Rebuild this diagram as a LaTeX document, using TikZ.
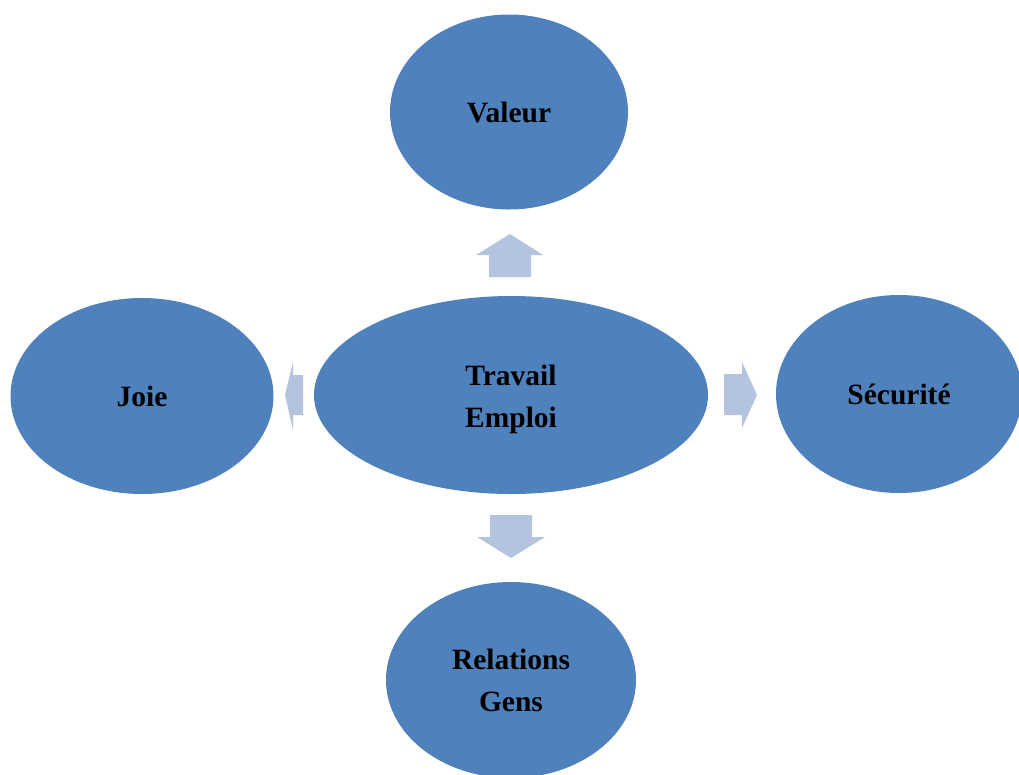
\documentclass[tikz,border=0pt]{standalone}
\usepackage{fontspec}
\setmainfont{Liberation Serif}
\usetikzlibrary{shapes.geometric}
\definecolor{bubble}{HTML}{4F81BD}
\definecolor{blockarrow}{HTML}{B4C4DF}
\tikzset{
  bubble/.style={ellipse, fill=bubble, draw=none, inner sep=0pt,
    align=center, font=\fontsize{29.5}{42}\selectfont\bfseries, text=black},
  blockarrow/.style={fill=blockarrow, draw=none}
}
\begin{document}
\begin{tikzpicture}[x=1pt,y=-1pt]
  \clip (0,0) rectangle (1019,774);
  \fill[white] (0,0) rectangle (1019,774);

  % the five bubbles
  \node[bubble, minimum width=238pt, minimum height=195pt] (valeur) at (509,112) {Valeur};
  \node[bubble, minimum width=394pt, minimum height=198pt] (travail) at (511,395) {};
  \node[bubble, anchor=center] (travailtext) at (511,399) {Travail\\Emploi};
  \node[bubble, minimum width=263pt, minimum height=196pt] (joie) at (142,396) {Joie};
  \node[bubble, minimum width=246pt, minimum height=198pt] (securite) at (899,394) {Sécurité};
  \node[bubble, minimum width=250pt, minimum height=196pt] (relations) at (511,680) {Relations\\Gens};

  % block arrows pointing outward from the centre
  \fill[blockarrow] (489,277) -- (489,255) -- (476,255) -- (510,234) -- (543,255) -- (531,255) -- (531,277) -- cycle;
  \fill[blockarrow] (490,515) -- (532,515) -- (532,537) -- (545,537) -- (511,558) -- (477,537) -- (490,537) -- cycle;
  \fill[blockarrow] (303,375) -- (293,375) -- (293,362) -- (285,395) -- (293,430) -- (293,415) -- (303,415) -- cycle;
  \fill[blockarrow] (724,374) -- (742,374) -- (742,362) -- (757,395) -- (742,428) -- (742,415) -- (724,415) -- cycle;
\end{tikzpicture}
\end{document}
